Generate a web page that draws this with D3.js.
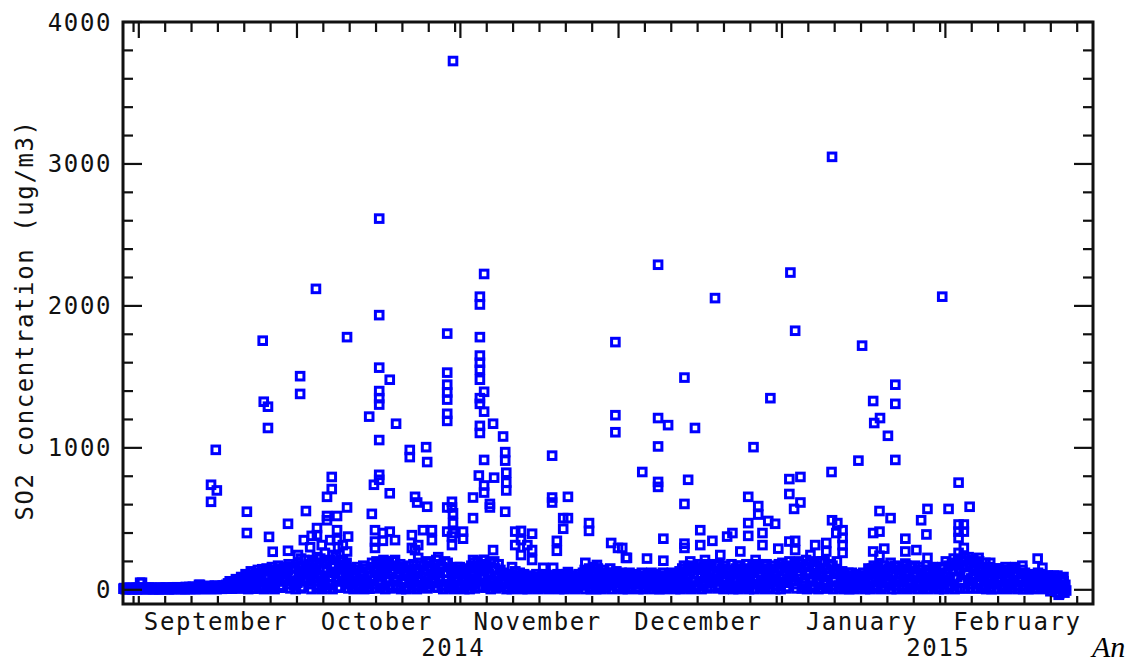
<!DOCTYPE html>
<html><head><meta charset="utf-8">
<script src="https://cdn.jsdelivr.net/npm/d3@7"></script>
<style>html,body{margin:0;padding:0;background:#fff;} svg{display:block}</style>
</head><body>
<svg id="chart" width="1131" height="662"></svg>
<script>
// ---------- data ----------
const monthLabels = ["September","October","November","December","January","February"];
const yearLabels = ["2014","2015"];
const yTickValues = [0,1000,2000,3000,4000];
const yTickLabels = ["0","1000","2000","3000","4000"];
const yAxisTitle = "SO2 concentration (ug/m3)";

// low band: one row per day starting 2014-08-29, six 4-hourly readings (ug/m3)
const bandStartDay = -3; // days relative to 2014-09-01
const dailyBand = [
[8,12,5,10,3,15],[10,6,14,9,4,12],[7,11,9,13,2,16],[12,50,8,10,5,14],[9,14,6,11,3,16],[11,8,13,7,4,15],
[6,12,10,9,2,14],[13,9,7,12,5,16],[8,15,11,6,3,12],[10,7,14,12,4,17],[12,18,9,8,5,14],[7,11,16,10,3,20],
[14,9,12,20,5,17],[10,22,15,8,4,18],[18,12,35,14,6,24],[9,20,13,25,5,16],[15,28,10,18,6,22],[12,22,30,16,5,26],
[20,14,25,11,7,30],[18,30,24,35,8,45],[25,60,40,20,8,50],[45,30,75,55,10,20],[70,35,90,50,10,20],[20,110,60,95,5,40],
[80,130,30,105,8,55],[40,120,90,140,10,65],[110,60,145,25,5,85],[95,150,50,130,10,20],[30,160,100,140,5,65],[120,60,170,90,15,30],
[150,20,110,160,60,85],[70,140,180,40,10,105],[160,100,30,150,5,65],[50,190,130,90,10,160],[170,20,210,110,60,140],[80,180,140,40,5,110],
[200,120,60,190,10,90],[30,160,220,100,5,65],[140,70,200,180,10,35],[90,210,40,160,5,125],[180,120,230,60,15,90],[20,200,150,100,60,175],
[160,80,190,130,10,40],[60,150,20,120,5,90],[140,90,160,40,10,65],[30,130,100,170,5,65],[150,60,120,20,8,90],[90,190,40,160,10,125],
[200,130,60,180,15,95],[40,170,210,110,5,75],[150,80,190,30,10,115],[120,200,60,170,15,90],[30,150,110,180,5,70],[160,70,130,20,5,100],
[100,170,50,140,10,75],[180,30,150,120,5,75],[60,140,190,90,15,30],[170,110,40,200,10,75],[20,190,140,80,50,110],[150,60,210,120,15,90],
[90,180,30,160,5,125],[200,120,70,190,10,35],[40,150,110,20,5,75],[130,70,160,90,10,35],[20,140,60,120,5,90],[110,30,150,80,5,55],
[170,100,40,190,10,70],[60,200,130,20,95,165],[180,90,210,140,15,50],[30,160,110,190,5,70],[150,60,200,100,10,30],[90,180,20,140,50,115],
[120,40,100,70,5,15],[20,110,60,90,5,40],[100,50,130,10,75,30],[70,120,30,100,5,50],[110,20,90,60,5,40],[40,100,70,10,25,85],
[90,30,110,60,5,15],[10,80,50,100,30,65],[70,110,20,90,5,45],[100,40,80,10,60,25],[30,90,110,60,5,15],[80,20,100,50,5,65],
[110,60,10,90,35,75],[40,100,70,20,5,85],[90,10,110,60,35,75],[60,120,30,140,5,90],[130,70,150,20,5,100],[40,160,100,130,5,70],
[150,80,20,120,5,50],[100,140,60,10,35,120],[30,120,150,80,5,55],[110,50,90,130,10,25],[20,100,70,120,5,45],[90,30,110,60,5,15],
[120,70,10,100,40,85],[50,110,80,20,5,95],[100,40,120,70,5,20],[10,90,60,110,35,75],[80,120,30,100,5,55],[110,20,90,50,5,70],
[40,100,120,70,5,20],[90,60,10,110,35,75],[120,30,80,100,5,55],[20,110,60,130,5,85],[150,70,170,40,10,110],[90,160,20,130,5,55],
[170,110,60,150,10,30],[30,140,180,90,5,60],[160,50,120,170,10,85],[80,180,140,20,50,110],[130,60,170,100,10,30],[180,20,110,150,65,5],
[60,170,90,130,10,30],[140,100,180,30,5,65],[20,150,70,170,5,110],[170,90,130,50,10,20],[110,180,30,150,5,70],[40,130,170,90,5,65],
[160,70,180,120,10,35],[90,150,20,170,5,55],[180,40,140,100,10,70],[60,170,110,150,5,30],[130,30,180,80,5,55],[190,100,50,160,10,130],
[20,170,200,120,60,90],[150,70,190,40,10,110],[100,200,130,180,10,50],[30,160,80,210,5,120],[180,110,200,60,10,30],[140,20,170,100,60,5],
[70,190,120,200,10,35],[200,50,150,90,10,120],[120,180,30,170,5,75],[60,140,200,110,10,30],[110,40,130,70,5,20],[20,100,60,120,5,40],
[90,120,30,80,5,55],[110,50,100,10,30,75],[60,90,120,40,5,20],[100,20,80,130,5,55],[150,60,170,110,10,30],[30,160,90,130,5,60],
[140,100,170,20,50,75],[70,150,40,160,5,110],[120,30,170,90,5,60],[160,110,60,140,10,30],[20,150,100,170,5,60],[130,70,160,40,10,100],
[90,170,120,30,5,60],[160,50,140,100,10,75],[30,120,170,80,5,55],[140,90,40,160,10,65],[70,150,110,20,5,40],[120,40,160,90,5,65],
[200,110,60,170,10,30],[30,190,140,220,5,90],[180,90,210,130,10,50],[60,200,160,230,10,110],[170,120,40,190,10,80],[210,80,150,110,10,40],
[50,180,200,130,10,90],[160,100,30,190,5,65],[120,160,70,20,5,45],[40,140,110,150,5,75],[150,60,130,90,10,30],[20,120,160,70,5,45],
[140,90,40,150,10,65],[100,160,120,30,5,65],[60,110,90,140,5,30],[120,30,100,70,5,50],[20,90,110,60,5,40],[100,50,10,120,30,75],
[70,110,40,90,5,20],[30,80,100,10,55,-10],[90,20,60,100,5,-15],[50,100,30,-30,10,75],[80,10,60,-20,35,-5]
];

// individually visible readings: time in days since 2014-09-01 00:00 and value (ug/m3)
const peakDays = [
0.6,11.6,13.7,14.8,13.7,14.6,20.5,20.5,23.5,23.7,24.5,24.5,24.7,25.4,28.3,28.3,30.6,30.6,30.2,30.8,
31.7,32.5,33.6,33.8,33.8,33.8,35.3,35.7,35.7,35.7,36.6,36.6,37.6,37.6,37.6,37.8,39.5,39.5,39.7,39.5,
31.3,33.0,34.7,36.3,38.7,38.7,36.8,32.8,
43.7,45.6,45.6,45.6,45.6,45.6,45.6,45.6,45.6,45.6,44.6,44.2,44.8,44.8,44.8,47.6,47.6,46.3,46.3,47.6,
48.6,48.8,46.7,48.6,
51.4,51.4,54.5,54.7,52.4,52.8,54.7,52.4,51.8,51.8,53.0,53.0,53.9,55.6,55.6,56.8,58.5,59.4,59.4,59.4,
59.4,58.5,58.5,58.5,58.5,58.5,58.5,58.5,59.6,58.5,
64.7,64.7,65.5,64.7,64.7,64.7,64.7,64.7,65.5,64.7,64.7,65.5,64.7,64.7,65.5,67.2,69.1,69.5,69.5,64.5,
67.4,69.7,69.7,69.7,65.5,65.5,63.4,66.6,66.6,69.5,63.4,59.6,59.6,59.6,61.5,61.5,67.2,63.4,65.5,60.9,
67.6,70.8,
71.4,72.5,74.6,71.4,74.6,72.5,73.7,74.6,72.5,
78.4,78.4,78.4,81.4,80.5,81.4,80.5,79.3,79.3,76.7,78.6,81.4,85.4,85.4,89.6,90.9,84.7,86.9,92.4,
90.4,90.4,90.4,95.5,98.5,98.5,98.5,98.5,98.5,103.5,100.4,105.5,104.2,109.3,116.6,119.8,103.5,115.6,
117.5,117.5,119.4,120.7,99.5,106.5,91.7,103.5,103.5,108.8,106.5,111.6,112.6,115.6,115.6,118.3,118.3,
121.3,92.6,96.4,99.5,110.3,114.1,117.0,107.4,104.6,
123.6,124.5,123.4,125.5,123.4,125.5,124.3,131.4,131.5,137.2,136.5,143.5,139.3,139.5,140.6,142.1,143.5,
143.5,140.5,142.6,148.4,149.6,153.6,157.6,155.5,152.4,131.5,132.5,133.5,132.3,133.5,133.5,133.5,123.4,
124.5,124.5,128.3,130.4,130.4,127.4,129.3,139.3,140.5,139.3,141.4,140.5,142.6,138.4,145.4,145.4,147.5,
149.6,145.4,150.7,149.4,153.4,
155.5,155.5,156.5,156.5,155.5,156.5,155.5,156.5,155.3,157.4,158.3,159.3,161.5,163.4,165.7,167.6,170.5,
171.4,172.4,175.4,174.5,161.5,160.6
];
const peakValues = [
50,35,740,700,620,986,550,400,1755,1325,1290,1140,373,268,465,275,1505,1380,245,220,
555,300,2120,435,385,230,260,655,520,490,795,710,520,420,350,300,1780,580,375,270,
350,210,315,350,315,210,245,380,
1220,2615,1935,1565,1400,1350,1305,1055,810,775,740,535,420,340,295,1480,680,400,345,410,
350,1170,200,210,
985,935,1005,900,655,615,585,280,385,295,315,225,420,420,350,230,410,620,580,375,
315,1805,1530,1445,1390,1340,1240,1190,3725,580,
2065,2010,2225,1780,1650,1600,1550,1480,1395,1350,1310,1255,1155,1105,915,1170,1080,970,910,805,
790,825,755,700,735,685,650,605,580,550,505,540,470,400,410,360,280,210,210,160,
150,160,
410,415,395,315,280,245,315,210,350,
945,650,615,655,505,505,430,345,275,155,155,125,470,415,330,295,190,175,225,
1745,1230,1110,830,2290,1210,1010,760,725,1495,1160,1140,775,2055,1005,1350,605,655,
590,530,485,465,360,420,295,325,295,345,315,375,400,470,380,400,315,
290,225,220,205,245,270,210,210,200,
2235,1825,780,795,675,615,570,830,3050,1720,910,915,1330,1175,1210,1085,1445,
1310,555,505,490,570,570,585,755,2065,490,470,420,400,365,315,260,340,
345,280,315,330,270,245,200,400,410,270,290,240,190,150,360,270,280,
225,185,140,390,120,
460,410,460,410,365,295,260,225,175,230,210,225,190,140,155,170,220,
155,100,90,-35,140,120
];

// ---------- chart ----------
const L = 123, R = 1093, T = 22, B = 604;
const DAY = 86400000;
const t0 = Date.UTC(2014, 8, 1);
const svg = d3.select("#chart");
const x = d3.scaleUtc().domain([new Date(Date.UTC(2014,7,29)), new Date(Date.UTC(2015,2,1))]).range([L, R]);
const y = d3.scaleLinear().domain([-100, 4000]).range([B, T]);

const pts = [];
dailyBand.forEach((row, i) => {
  row.forEach((v, k) => {
    pts.push({t: new Date(t0 + (bandStartDay + i + (k * 4 + 2) / 24) * DAY), v});
  });
});
peakDays.forEach((d, i) => pts.push({t: new Date(t0 + d * DAY), v: peakValues[i]}));

const S = 7.6;
svg.append("g").selectAll("rect").data(pts).join("rect")
  .attr("x", d => x(d.t) - S / 2).attr("y", d => y(d.v) - S / 2)
  .attr("width", S).attr("height", S)
  .attr("fill", "none").attr("stroke", "#0000ff").attr("stroke-width", 3);

// frame
svg.append("rect").attr("x", L).attr("y", T).attr("width", R - L).attr("height", B - T)
  .attr("fill", "none").attr("stroke", "#111").attr("stroke-width", 3);

const tickG = svg.append("g").attr("stroke", "#111").attr("stroke-width", 2.2);
// y ticks (inward, both sides)
d3.range(0, 4001, 200).forEach(v => {
  const len = v % 1000 === 0 ? 19 : 10;
  tickG.append("line").attr("x1", L).attr("x2", L + len).attr("y1", y(v)).attr("y2", y(v));
  tickG.append("line").attr("x1", R).attr("x2", R - len).attr("y1", y(v)).attr("y2", y(v));
});
// x ticks: days 1,6,11,16,21,26,31 of each month
const tickDaySet = new Set([1,6,11,16,21,26,31]);
const xTicks = d3.utcDay.range(x.domain()[0], x.domain()[1]).filter(d => tickDaySet.has(d.getUTCDate()));
xTicks.forEach(d => {
  const px = x(d);
  const monthStart = d.getUTCDate() === 1;
  tickG.append("line").attr("x1", px).attr("x2", px).attr("y1", T).attr("y2", T + (monthStart ? 16 : 10));
  tickG.append("line").attr("x1", px).attr("x2", px).attr("y1", B).attr("y2", B - 8);
});

const txt = svg.append("g").attr("font-family", "DejaVu Sans Mono").attr("font-size", 24)
  .attr("letter-spacing", "1.6px").attr("fill", "#111");

// y labels
yTickValues.forEach((v, i) => {
  txt.append("text").attr("x", 112).attr("y", y(v) + 8.5).attr("text-anchor", "end").text(yTickLabels[i]);
});
// month labels, centred in each month
const months = d3.utcMonth.range(new Date(Date.UTC(2014,8,1)), new Date(Date.UTC(2015,2,1)));
months.forEach((m, i) => {
  const next = d3.utcMonth.offset(m, 1);
  const cx = (x(m) + x(new Date(+next - DAY))) / 2;
  txt.append("text").attr("x", cx + 0.8).attr("y", 630).attr("text-anchor", "middle").text(monthLabels[i]);
});
// year labels, centred over the part of each year shown
const yearSpans = [[x.domain()[0], new Date(Date.UTC(2015,0,1))], [new Date(Date.UTC(2015,0,1)), x.domain()[1]]];
yearSpans.forEach((s, i) => {
  txt.append("text").attr("x", (x(s[0]) + x(s[1])) / 2 + 0.8).attr("y", 656).attr("text-anchor", "middle").text(yearLabels[i]);
});
// y title
txt.append("text").attr("transform", "translate(33,320) rotate(-90)").attr("text-anchor", "middle").text(yAxisTitle);

// caption fragment at the lower right
svg.append("text").attr("x", 1092).attr("y", 657).attr("font-family", "Liberation Serif")
  .attr("font-style", "italic").attr("font-size", 30).attr("fill", "#000").text("An");
</script>
</body></html>
